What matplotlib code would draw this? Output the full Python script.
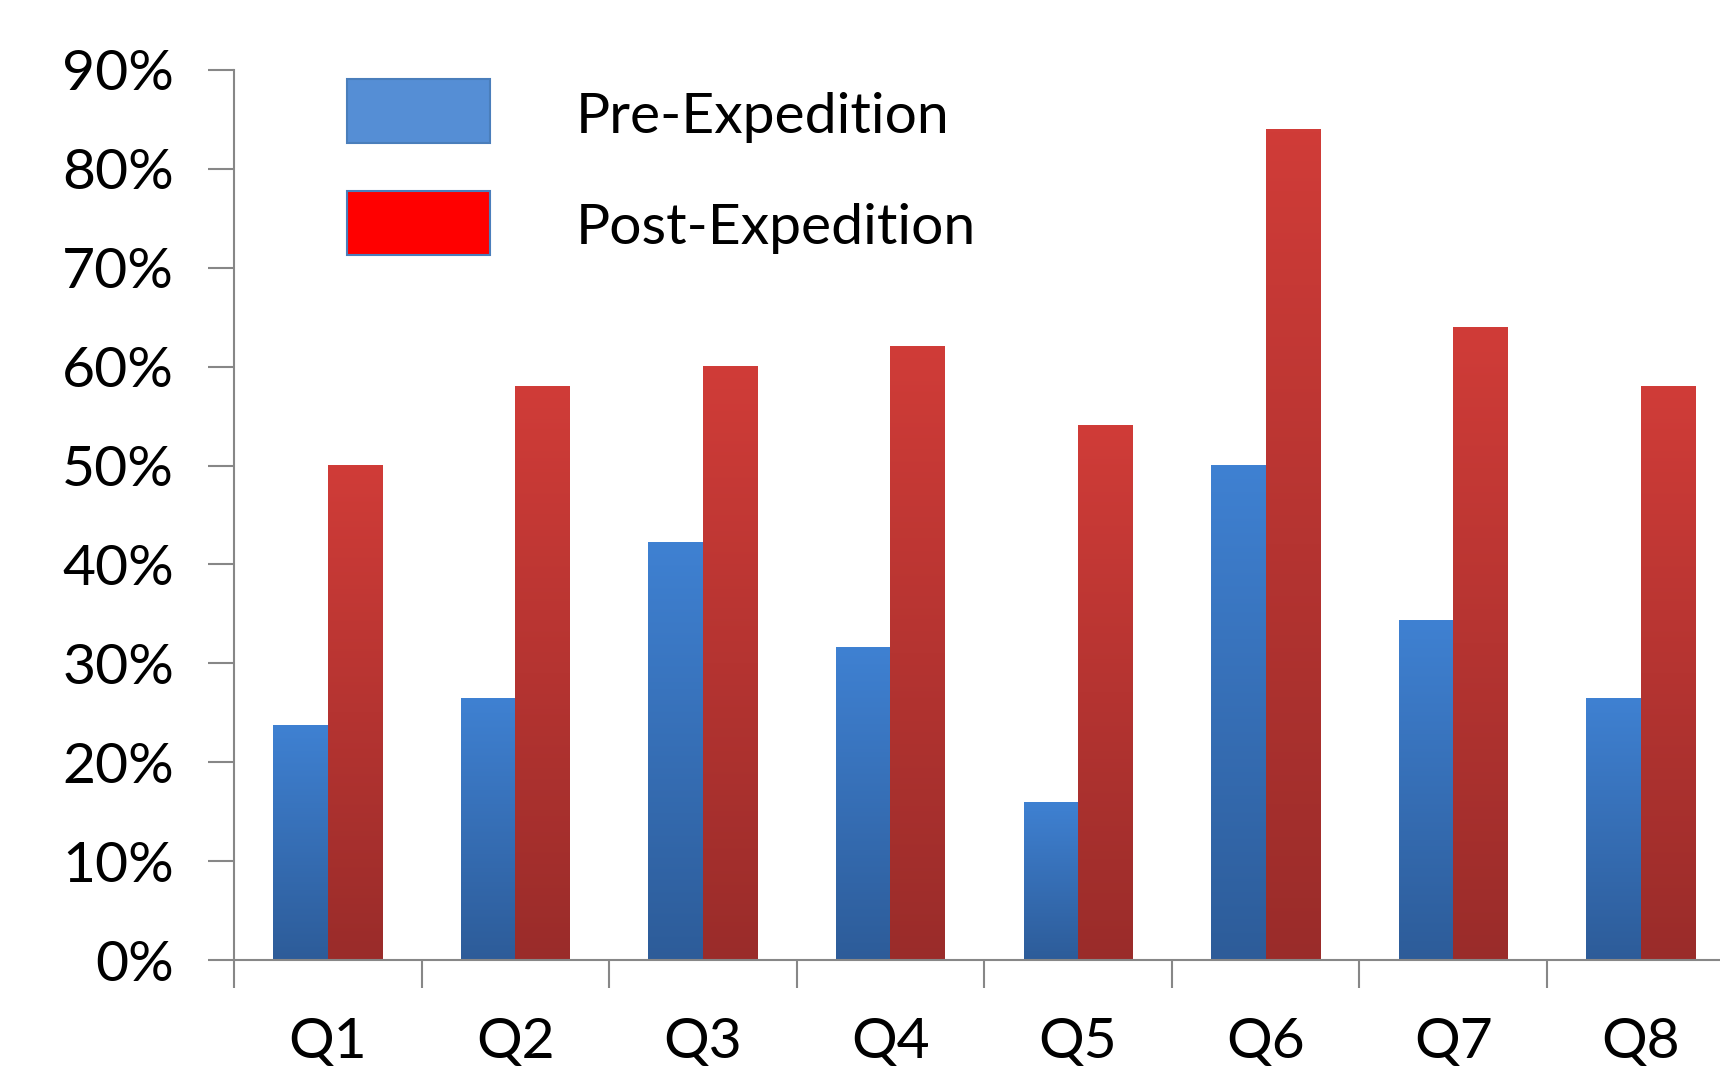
import numpy as np
import matplotlib
matplotlib.use("Agg")
import matplotlib.pyplot as plt
from matplotlib.colors import LinearSegmentedColormap
from matplotlib.patches import Rectangle

questions = ["Q1", "Q2", "Q3", "Q4", "Q5", "Q6", "Q7", "Q8"]
pre = [23.7, 26.4, 42.2, 31.6, 15.9, 50.0, 34.3, 26.4]
post = [50.0, 58.0, 60.0, 62.0, 54.0, 84.0, 64.0, 58.0]
series_names = ["Pre-Expedition", "Post-Expedition"]

plt.rcParams["font.family"] = ["Lato", "DejaVu Sans"]

blue_cm = LinearSegmentedColormap.from_list("b", ["#2d5c99", "#3f81d2"])
red_cm = LinearSegmentedColormap.from_list("r", ["#9a2c2a", "#d03c38"])
grad = np.linspace(1, 0, 256).reshape(-1, 1)

fig = plt.figure(figsize=(17.2, 10.73), dpi=100)
ax = fig.add_axes([0.136, 0.1053, 0.8725, 0.8295])

w = 0.29
for i, (a, b) in enumerate(zip(pre, post)):
    ax.imshow(grad, extent=[i - w, i, 0, a], aspect="auto", cmap=blue_cm, zorder=2)
    ax.imshow(grad, extent=[i, i + w, 0, b], aspect="auto", cmap=red_cm, zorder=2)

ax.set_xlim(-0.5, len(questions) - 0.5)
ax.set_ylim(0, 90)
ax.set_yticks(np.arange(0, 91, 10))
ax.set_yticklabels([f"{v}%" for v in range(0, 91, 10)], fontsize=41)
ax.set_xticks(np.arange(len(questions)))
ax.set_xticklabels(questions, fontsize=41)
ax.set_xticks(np.arange(len(questions) + 1) - 0.5, minor=True)

gray = "#878787"
for s in ["top", "right"]:
    ax.spines[s].set_visible(False)
for s in ["left", "bottom"]:
    ax.spines[s].set_color(gray)
    ax.spines[s].set_linewidth(1.5)
ax.tick_params(axis="y", length=19, width=1.5, color=gray, pad=24)
ax.tick_params(axis="x", which="major", length=0, pad=41)
ax.tick_params(axis="x", which="minor", length=20, width=1.5, color=gray)

# legend drawn by hand to match the boxy look
legend_cols = [("#558ed5", "#4a7ebb"), ("#ff0000", "#4a7ebb")]
for k, (name, (fc, ec)) in enumerate(zip(series_names, legend_cols)):
    y0 = 1 - (143 + k * 112) / 1073
    fig.add_artist(Rectangle((347 / 1720, y0), 143 / 1720, 64 / 1073,
                             transform=fig.transFigure, facecolor=fc,
                             edgecolor=ec, linewidth=1.5))
    fig.text(576 / 1720, y0 + 26 / 1073, name, fontsize=41, va="center")

fig.savefig("out.png", dpi=100)
